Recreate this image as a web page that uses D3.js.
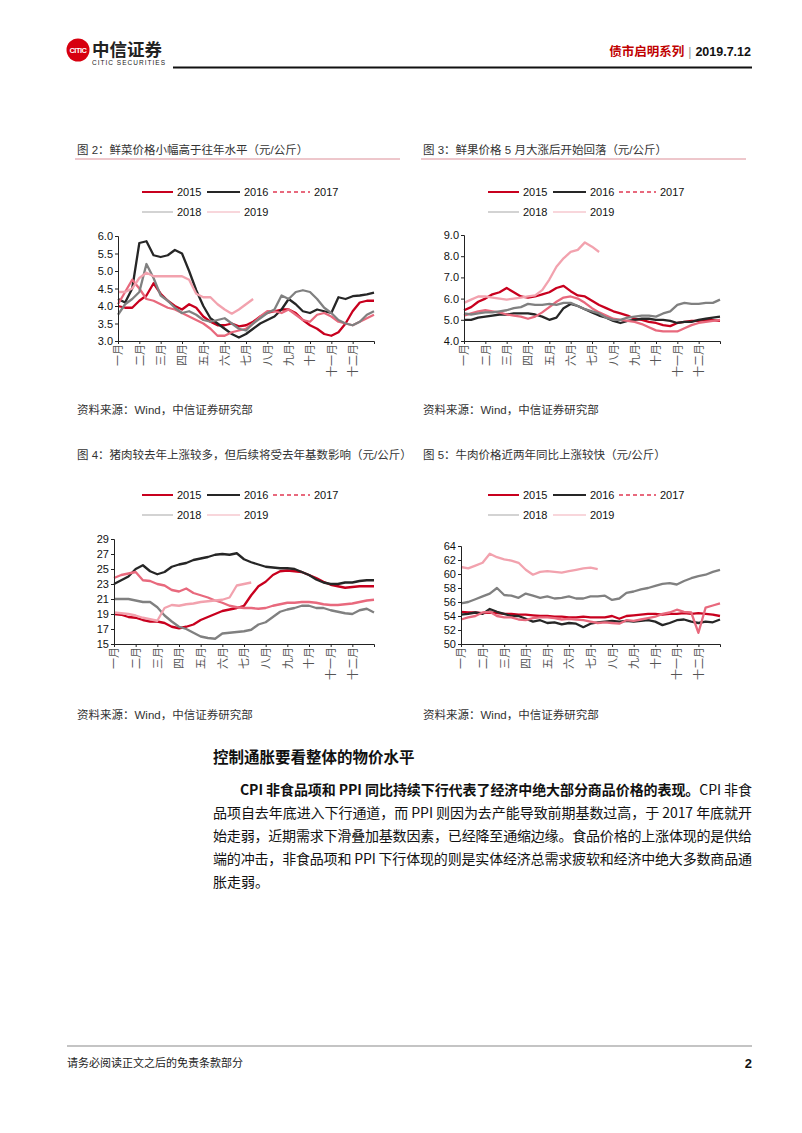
<!DOCTYPE html>
<html>
<head>
<meta charset="utf-8">
<script src="https://cdn.jsdelivr.net/npm/d3@7"></script>
<style>
  body { margin: 0; background: #fff; }
  svg { display: block; }
  text { font-family: "Liberation Sans", Arial, "Noto Sans CJK SC", sans-serif; }
</style>
</head>
<body>
<svg id="page" width="802" height="1133"></svg>
<script>
// x axis categories, one tick per month; data points are every 1/3 month
var months = ["一月", "二月", "三月", "四月", "五月", "六月", "七月", "八月", "九月", "十月", "十一月", "十二月"];
var years = ["2015", "2016", "2017", "2018", "2019"];

// 鲜菜 (元/公斤)
var veg2015 = [4.0, 3.95, 3.95, 4.15, 4.3, 4.65, 4.35, 4.15, 4.0, 3.9, 4.05, 3.95, 3.7, 3.55, 3.45, 3.45, 3.5, 3.42, 3.45, 3.55, 3.7, 3.8, 3.85, 3.9, 3.9, 3.8, 3.6, 3.45, 3.35, 3.2, 3.15, 3.25, 3.5, 3.85, 4.1, 4.15, 4.15];
var veg2016 = [4.2, 4.1, 4.5, 5.8, 5.85, 5.45, 5.4, 5.45, 5.6, 5.5, 5.0, 4.45, 4.0, 3.65, 3.5, 3.35, 3.2, 3.1, 3.2, 3.35, 3.5, 3.6, 3.7, 3.9, 4.2, 4.05, 3.85, 3.8, 3.9, 3.85, 3.8, 4.25, 4.2, 4.28, 4.3, 4.33, 4.38];
var veg2017 = [4.05, 4.4, 4.75, 4.5, 4.2, 4.15, 4.05, 3.95, 3.9, 3.8, 3.7, 3.6, 3.5, 3.35, 3.15, 3.15, 3.25, 3.3, 3.35, 3.5, 3.7, 3.85, 3.85, 3.8, 3.9, 3.75, 3.6, 3.55, 3.75, 3.8, 3.7, 3.55, 3.5, 3.45, 3.55, 3.65, 3.75];
var veg2018 = [3.75, 4.05, 4.2, 4.4, 5.2, 4.8, 4.3, 4.15, 3.95, 3.8, 3.85, 3.75, 3.6, 3.55, 3.6, 3.65, 3.5, 3.35, 3.3, 3.5, 3.65, 3.8, 3.9, 4.3, 4.2, 4.4, 4.45, 4.4, 4.2, 3.95, 3.8, 3.6, 3.5, 3.45, 3.55, 3.75, 3.85];
var veg2019 = [4.4, 4.4, 4.5, 4.8, 4.95, 4.85, 4.85, 4.85, 4.85, 4.85, 4.75, 4.35, 4.25, 4.25, 4.05, 3.9, 3.78, 3.9, 4.05, 4.2];

// 鲜果 (元/公斤)
var fruit2015 = [5.45, 5.6, 5.85, 6.0, 6.2, 6.3, 6.5, 6.3, 6.1, 6.05, 6.1, 6.2, 6.3, 6.5, 6.6, 6.35, 6.15, 6.1, 5.9, 5.7, 5.55, 5.4, 5.3, 5.2, 5.05, 5.0, 4.9, 4.85, 4.75, 4.7, 4.85, 4.9, 4.95, 4.95, 5.0, 4.98, 4.95];
var fruit2016 = [5.0, 5.0, 5.1, 5.15, 5.2, 5.25, 5.25, 5.3, 5.3, 5.3, 5.25, 5.15, 5.0, 5.1, 5.55, 5.75, 5.65, 5.5, 5.35, 5.2, 5.1, 4.95, 4.85, 4.95, 5.0, 5.05, 5.05, 5.0, 5.0, 4.95, 4.85, 4.9, 4.9, 5.0, 5.05, 5.1, 5.15];
var fruit2017 = [5.2, 5.3, 5.4, 5.45, 5.4, 5.35, 5.25, 5.2, 5.15, 5.05, 5.15, 5.35, 5.6, 5.85, 6.05, 6.1, 6.0, 5.8, 5.55, 5.35, 5.2, 5.05, 5.0, 4.95, 4.9, 4.8, 4.65, 4.5, 4.45, 4.45, 4.45, 4.6, 4.75, 4.85, 4.9, 4.95, 5.0];
var fruit2018 = [5.3, 5.25, 5.3, 5.35, 5.35, 5.4, 5.45, 5.55, 5.6, 5.75, 5.7, 5.7, 5.75, 5.7, 5.8, 5.8, 5.65, 5.5, 5.4, 5.3, 5.1, 5.0, 5.0, 5.1, 5.15, 5.2, 5.2, 5.15, 5.3, 5.4, 5.7, 5.8, 5.75, 5.75, 5.8, 5.8, 5.95];
var fruit2019 = [5.8, 5.95, 6.1, 6.1, 6.05, 6.0, 5.95, 6.0, 6.05, 6.1, 6.15, 6.4, 6.9, 7.5, 7.9, 8.2, 8.3, 8.65, 8.45, 8.2];

// 猪肉 (元/公斤)
var pork2015 = [19.0, 18.9, 18.6, 18.5, 18.2, 18.0, 18.0, 17.8, 17.3, 17.1, 17.3, 17.6, 18.2, 18.6, 19.0, 19.4, 19.6, 19.8, 20.1, 21.5, 22.7, 23.3, 24.2, 24.7, 24.8, 24.7, 24.6, 24.2, 23.8, 23.3, 22.9, 22.7, 22.5, 22.6, 22.7, 22.7, 22.7];
var pork2016 = [23.0, 23.5, 24.0, 25.0, 25.5, 24.7, 24.3, 24.6, 25.3, 25.6, 25.8, 26.2, 26.4, 26.6, 26.9, 27.0, 26.9, 27.1, 26.3, 25.9, 25.6, 25.3, 25.2, 25.1, 25.1, 25.0, 24.6, 24.2, 23.6, 23.2, 23.0, 23.0, 23.2, 23.2, 23.4, 23.5, 23.5];
var pork2017 = [23.8, 24.2, 24.4, 24.6, 23.5, 23.4, 23.0, 22.8, 22.2, 22.0, 22.4, 21.8, 21.5, 21.2, 20.8, 20.5, 20.1, 19.9, 19.8, 19.8, 19.7, 19.8, 20.1, 20.3, 20.5, 20.5, 20.6, 20.6, 20.5, 20.3, 20.2, 20.2, 20.3, 20.4, 20.6, 20.8, 20.9];
var pork2018 = [21.0, 21.0, 21.0, 20.8, 20.6, 20.6, 19.9, 18.8, 18.0, 17.3, 17.0, 16.5, 16.0, 15.8, 15.7, 16.4, 16.5, 16.6, 16.7, 16.9, 17.6, 17.9, 18.6, 19.3, 19.6, 19.8, 20.1, 20.1, 19.8, 19.8, 19.5, 19.3, 19.1, 19.0, 19.5, 19.7, 19.2];
var pork2019 = [19.2, 19.1, 19.0, 18.8, 18.5, 18.3, 18.1, 19.8, 20.2, 20.1, 20.3, 20.4, 20.6, 20.7, 20.8, 20.9, 21.2, 22.8, 23.0, 23.2];

// 牛肉 (元/公斤)
var beef2015 = [54.6, 54.5, 54.5, 54.4, 54.5, 54.4, 54.3, 54.3, 54.2, 54.2, 54.1, 54.0, 54.0, 53.9, 53.9, 53.8, 53.8, 53.9, 53.8, 53.8, 53.8, 54.0, 53.6, 54.0, 54.1, 54.2, 54.3, 54.3, 54.2, 54.3, 54.3, 54.4, 54.3, 54.4, 54.3, 54.2, 54.0];
var beef2016 = [54.2, 54.3, 54.5, 54.3, 55.0, 54.6, 54.3, 54.0, 54.0, 53.6, 53.2, 53.4, 53.0, 53.1, 52.8, 53.0, 52.9, 52.4, 52.9, 53.1, 53.2, 53.3, 53.2, 53.3, 53.2, 53.3, 53.4, 53.2, 52.7, 53.0, 53.4, 53.5, 53.2, 53.0, 53.2, 53.1, 53.5];
var beef2017 = [53.5, 53.8, 54.0, 54.5, 54.6, 54.0, 53.8, 53.8, 53.5, 53.4, 53.7, 53.8, 53.8, 53.7, 53.5, 53.6, 53.5, 53.4, 53.2, 53.0, 53.1, 53.0, 52.9, 53.4, 53.3, 53.5, 53.7, 53.9, 54.3, 54.5, 54.9, 54.6, 54.5, 51.6, 55.2, 55.5, 55.8];
var beef2018 = [55.8, 56.0, 56.4, 56.8, 57.2, 58.0, 57.0, 56.9, 56.6, 57.2, 56.9, 56.6, 56.8, 56.5, 56.6, 56.8, 56.5, 56.5, 56.8, 56.8, 56.9, 56.3, 56.5, 57.3, 57.5, 57.8, 58.0, 58.3, 58.6, 58.7, 58.5, 59.0, 59.4, 59.7, 59.9, 60.3, 60.6];
var beef2019 = [61.0, 60.8, 61.2, 61.6, 62.9, 62.4, 62.1, 61.9, 61.6, 60.6, 59.9, 60.3, 60.4, 60.3, 60.2, 60.4, 60.6, 60.8, 60.9, 60.7];

var vegTicks = [3.0, 3.5, 4.0, 4.5, 5.0, 5.5, 6.0];
var fruitTicks = [4.0, 5.0, 6.0, 7.0, 8.0, 9.0];
var porkTicks = [15, 17, 19, 21, 23, 25, 27, 29];
var beefTicks = [50, 52, 54, 56, 58, 60, 62, 64];

var lineColors = ["#c8001e", "#262626", "#e8697d", "#808080", "#f2a2ae"];
var legendColors = ["#c8001e", "#262626", "#e8697d", "#c4c4c4", "#f6c8cf"];

var charts = [
  { title: "图 2：鲜菜价格小幅高于往年水平（元/公斤）", series: [veg2015, veg2016, veg2017, veg2018, veg2019],
    ticks: vegTicks, fmt: ".1f", left: 77, x0: 118, x1: 374, yTop: 236, yBot: 341,
    titleY: 154, legendY: 192, sourceY: 414, underline: true },
  { title: "图 3：鲜果价格 5 月大涨后开始回落（元/公斤）", series: [fruit2015, fruit2016, fruit2017, fruit2018, fruit2019],
    ticks: fruitTicks, fmt: ".1f", left: 423, x0: 464, x1: 720, yTop: 235, yBot: 341,
    titleY: 154, legendY: 192, sourceY: 414, underline: true },
  { title: "图 4：猪肉较去年上涨较多，但后续将受去年基数影响（元/公斤）", series: [pork2015, pork2016, pork2017, pork2018, pork2019],
    ticks: porkTicks, fmt: "d", left: 77, x0: 114, x1: 374, yTop: 539, yBot: 644,
    titleY: 459, legendY: 495, sourceY: 719, underline: false },
  { title: "图 5：牛肉价格近两年同比上涨较快（元/公斤）", series: [beef2015, beef2016, beef2017, beef2018, beef2019],
    ticks: beefTicks, fmt: "d", left: 423, x0: 461, x1: 720, yTop: 546, yBot: 644,
    titleY: 459, legendY: 495, sourceY: 719, underline: false }
];

var svg = d3.select("#page");
svg.append("rect").attr("width", 802).attr("height", 1133).attr("fill", "#fff");

// ---- header ----
var logo = svg.append("g");
logo.append("circle").attr("cx", 78).attr("cy", 50).attr("r", 11.5).attr("fill", "#d7000f");
logo.append("text").attr("x", 78).attr("y", 53).attr("text-anchor", "middle")
  .attr("font-size", 7.5).attr("font-weight", "bold").attr("fill", "#fff").attr("letter-spacing", -0.5)
  .text("CITIC");
logo.append("text").attr("x", 92).attr("y", 56).attr("font-size", 17.5).attr("font-weight", "bold")
  .attr("fill", "#222").style("font-family", "'Noto Sans CJK SC', sans-serif").text("中信证券");
logo.append("text").attr("x", 92).attr("y", 65).attr("font-size", 6.5)
  .attr("fill", "#222").attr("textLength", 73).text("CITIC SECURITIES");

var head = svg.append("text").attr("x", 751).attr("y", 56).attr("text-anchor", "end")
  .attr("font-size", 12.5).attr("font-weight", "bold");
head.append("tspan").attr("fill", "#c00000").text("债市启明系列");
head.append("tspan").attr("fill", "#999").attr("font-weight", "normal").attr("dx", 4).text("|");
head.append("tspan").attr("fill", "#111").attr("dx", 4).text("2019.7.12");

svg.append("line").attr("x1", 173).attr("x2", 752).attr("y1", 67.5).attr("y2", 67.5)
  .attr("stroke", "#111").attr("stroke-width", 2);

// ---- charts ----
var legendSlots = [
  { dx: 0, row: 0, len: 31 }, { dx: 65, row: 0, len: 33 }, { dx: 131, row: 0, len: 37 },
  { dx: 0, row: 1, len: 31 }, { dx: 65, row: 1, len: 33 }
];

charts.forEach(function (c) {
  var g = svg.append("g")
    , x = d3.scaleLinear().domain([0, 12]).range([c.x0, c.x1])
    , y = d3.scaleLinear().domain([c.ticks[0], c.ticks[c.ticks.length - 1]]).range([c.yBot, c.yTop])
    , legendX = c.left + 65
    ;

  g.append("text").attr("x", c.left).attr("y", c.titleY).attr("font-size", 11.5).attr("fill", "#333")
    .text(c.title);
  if (c.underline) {
    g.append("line").attr("x1", c.left - 2).attr("x2", c.left + 323)
      .attr("y1", c.titleY + 5).attr("y2", c.titleY + 5)
      .attr("stroke", "#dc8f98").attr("stroke-width", 1);
  }

  // legend
  var leg = g.selectAll("g.leg").data(years).enter().append("g").attr("class", "leg")
    .attr("transform", function (d, i) {
      var s = legendSlots[i];
      return "translate(" + (legendX + s.dx) + "," + (c.legendY + s.row * 20) + ")";
    });
  leg.append("line").attr("x1", 0).attr("x2", function (d, i) { return legendSlots[i].len; })
    .attr("y1", 0).attr("y2", 0)
    .attr("stroke", function (d, i) { return legendColors[i]; })
    .attr("stroke-width", function (d, i) { return i < 3 ? 2 : 1.5; })
    .attr("stroke-dasharray", function (d, i) { return i === 2 ? "4,3" : null; });
  leg.append("text").attr("x", function (d, i) { return legendSlots[i].len + 4; }).attr("y", 4)
    .attr("font-size", 11).attr("fill", "#111").text(function (d) { return d; });

  // lines
  var line = d3.line()
    .x(function (d, i) { return x(i / 3); })
    .y(function (d) { return y(d); });

  g.selectAll("path.series").data(c.series).enter().append("path").attr("class", "series")
    .attr("d", line)
    .attr("fill", "none")
    .attr("stroke", function (d, i) { return lineColors[i]; })
    .attr("stroke-width", 2.3)
    .attr("stroke-linejoin", "round");

  // axes
  var yAxis = g.append("g").attr("transform", "translate(" + c.x0 + ",0)")
    .call(d3.axisLeft(y).tickValues(c.ticks).tickSize(3).tickPadding(2).tickFormat(d3.format(c.fmt)));
  yAxis.selectAll("text").attr("font-size", 11).attr("fill", "#111")
    .style("font-family", "'Liberation Sans', Arial, sans-serif");

  var xAxis = g.append("g").attr("transform", "translate(0," + c.yBot + ")")
    .call(d3.axisBottom(x).tickValues(months.map(function (m, i) { return i; }))
      .tickSize(3).tickFormat(function (i) { return months[i]; }));
  xAxis.selectAll("text")
    .attr("transform", "rotate(-90)")
    .attr("text-anchor", "end")
    .attr("x", -3).attr("y", 0).attr("dy", "0.36em")
    .attr("font-size", 11).attr("fill", "#555")
    .style("font-family", "'Noto Sans CJK SC', sans-serif");
  g.selectAll(".domain, .tick line").attr("stroke", "#222");

  g.append("text").attr("x", c.left).attr("y", c.sourceY).attr("font-size", 11.5).attr("fill", "#333")
    .text("资料来源：Wind，中信证券研究部");
});

// ---- body text ----
svg.append("text").attr("x", 213).attr("y", 763).attr("font-size", 15.5).attr("font-weight", "bold")
  .attr("fill", "#111").style("font-family", "'Noto Sans CJK SC', sans-serif")
  .text("控制通胀要看整体的物价水平");

var paraLines = [
  { x: 240, bold: "CPI 非食品项和 PPI 同比持续下行代表了经济中绝大部分商品价格的表现。", text: "CPI 非食", justify: true },
  { x: 213, bold: "", text: "品项自去年底进入下行通道，而 PPI 则因为去产能导致前期基数过高，于 2017 年底就开", justify: true },
  { x: 213, bold: "", text: "始走弱，近期需求下滑叠加基数因素，已经降至通缩边缘。食品价格的上涨体现的是供给", justify: true },
  { x: 213, bold: "", text: "端的冲击，非食品项和 PPI 下行体现的则是实体经济总需求疲软和经济中绝大多数商品通", justify: true },
  { x: 213, bold: "", text: "胀走弱。", justify: false }
];
paraLines.forEach(function (p, i) {
  var t = svg.append("text").attr("x", p.x).attr("y", 795 + i * 23).attr("font-size", 14)
    .attr("fill", "#111").style("font-family", "'Noto Sans CJK SC', sans-serif");
  if (p.justify) t.attr("textLength", 752 - p.x).attr("lengthAdjust", "spacing");
  if (p.bold) t.append("tspan").attr("font-weight", "bold").text(p.bold);
  t.append("tspan").text(p.text);
});

// ---- footer ----
svg.append("line").attr("x1", 67).attr("x2", 752).attr("y1", 1046).attr("y2", 1046)
  .attr("stroke", "#b0b0b0").attr("stroke-width", 1.5);
svg.append("text").attr("x", 67).attr("y", 1067).attr("font-size", 11).attr("fill", "#222")
  .style("font-family", "'Noto Sans CJK SC', sans-serif").text("请务必阅读正文之后的免责条款部分");
svg.append("text").attr("x", 752).attr("y", 1068).attr("text-anchor", "end").attr("font-size", 13)
  .attr("font-weight", "bold").attr("fill", "#111").text("2");
</script>
</body>
</html>
